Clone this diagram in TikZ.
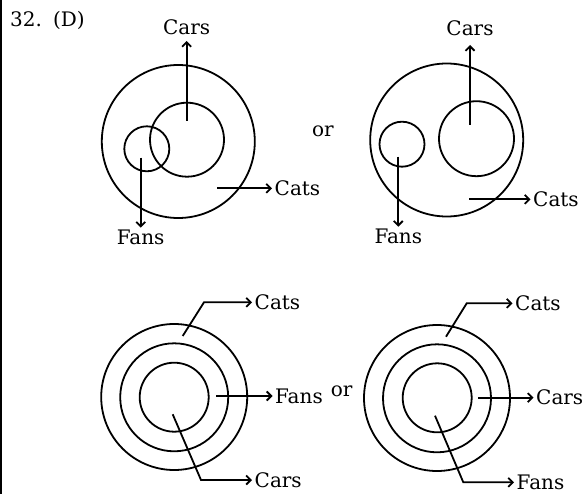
\documentclass[tikz,border=0pt]{standalone}
\usepackage{fontspec}
\setmainfont{DejaVu Serif}
\usetikzlibrary{arrows.meta}
\begin{document}
\begin{tikzpicture}[x=1pt,y=-1pt,
  ring/.style={circle,draw,line width=1.8pt,inner sep=0pt,minimum size=#1},
  lbl/.style={font=\fontsize{20}{24}\selectfont,inner sep=2.5pt},
  arr/.style={line width=1.8pt,-{Straight Barb[length=4.5pt,width=9pt]}},
  ln/.style={line width=1.8pt}]
\useasboundingbox (0,0) rectangle (585,494);
\draw[ln] (1.2,0) coordinate (lt) -- (1.2,494) coordinate (lb);
\node[lbl,anchor=west] (title) at (7.5,20) {32.\hspace{0.55em}(D)};
% top left
\node[ring=153pt] (A1) at (178.3,141.5) {};
\node[ring=74pt] (A2) at (187,139.7) {};
\node[ring=45pt] (A3) at (146.8,148.8) {};
\coordinate (a1) at (186.7,120.7);
\node[lbl,anchor=south,inner ysep=6.5pt] (carsA) at (186.7,41) {Cars};
\draw[arr] (a1) -- (carsA);
\coordinate (a2) at (140.7,157.7);
\node[lbl,anchor=north,inner ysep=2.5pt] (fansA) at (140.7,227.7) {Fans};
\draw[arr] (a2) -- (fansA);
\coordinate (a3) at (217.3,188.3);
\node[lbl,anchor=west] (catsA) at (272,188.3) {Cats};
\draw[arr] (a3) -- (catsA);
\node[lbl] (or1) at (323,131) {or};
% top right
\node[ring=153pt] (B1) at (446.7,140) {};
\node[ring=75pt] (B2) at (476.5,138.7) {};
\node[ring=45pt] (B3) at (402,144.2) {};
\coordinate (b1) at (470,125);
\node[lbl,anchor=south,inner ysep=9pt] (carsB) at (470,45) {Cars};
\draw[arr] (b1) -- (carsB);
\coordinate (b2) at (398.3,156.7);
\node[lbl,anchor=north,inner ysep=2pt] (fansB) at (398.3,226.7) {Fans};
\draw[arr] (b2) -- (fansB);
\coordinate (b3) at (469.3,199.3);
\node[lbl,anchor=west] (catsB) at (530.5,199.3) {Cats};
\draw[arr] (b3) -- (catsB);
% bottom left
\node[ring=146pt] (C1) at (174.2,397) {};
\node[ring=108pt] (C2) at (174.2,397.3) {};
\node[ring=69pt] (C3) at (174.2,397.2) {};
\coordinate (c1) at (182.7,336);
\coordinate (c1b) at (204,302.3);
\node[lbl,anchor=west] (catsC) at (252,302.3) {Cats};
\draw[arr] (c1) -- (c1b) -- (catsC);
\coordinate (c2) at (216,396);
\node[lbl,anchor=west] (fansC) at (272.5,396) {Fans};
\draw[arr] (c2) -- (fansC);
\coordinate (c3) at (172.7,414.3);
\coordinate (c3b) at (201,480);
\node[lbl,anchor=west] (carsC) at (252,480) {Cars};
\draw[arr] (c3) -- (c3b) -- (carsC);
\node[lbl] (or2) at (341.7,391.7) {or};
% bottom right
\node[ring=146pt] (D1) at (437,398) {};
\node[ring=108pt] (D2) at (437,398.3) {};
\node[ring=69pt] (D3) at (437.2,397.8) {};
\coordinate (d1) at (446,336.7);
\coordinate (d1b) at (466.7,303.3);
\node[lbl,anchor=west] (catsD) at (512.5,303.3) {Cats};
\draw[arr] (d1) -- (d1b) -- (catsD);
\coordinate (d2) at (478.3,397.7);
\node[lbl,anchor=west] (carsD) at (533.5,397.7) {Cars};
\draw[arr] (d2) -- (carsD);
\coordinate (d3) at (435,415.7);
\coordinate (d3b) at (463.3,482.3);
\node[lbl,anchor=west] (fansD) at (514,482.3) {Fans};
\draw[arr] (d3) -- (d3b) -- (fansD);
\end{tikzpicture}
\end{document}
